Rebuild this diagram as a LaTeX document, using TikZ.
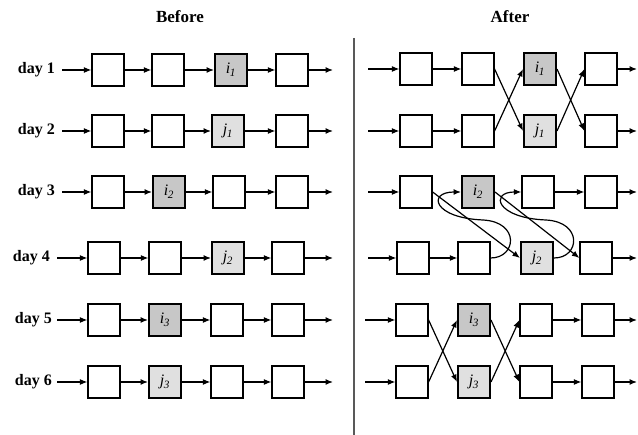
\documentclass[tikz,border=0pt]{standalone}
\usepackage{fontspec}
\setmainfont{Liberation Serif}
\usetikzlibrary{arrows.meta}
\tikzset{
  box/.style={draw, line width=1.2pt, minimum size=32pt, inner sep=0pt, fill=white, font=\fontsize{16}{16}\selectfont\itshape},
  ibox/.style={box, fill=black!22, line width=2pt},
  jbox/.style={box, fill=black!12, line width=2pt},
  arr/.style={-{Latex[length=7.5pt,width=6pt]}, line width=1.2pt},
  daylbl/.style={anchor=east, inner sep=0pt, font=\fontsize{16}{16}\selectfont\bfseries},
  ttl/.style={inner sep=0pt, font=\fontsize{17}{17}\selectfont\bfseries},
}
\newcommand{\lab}[2]{#1\textsubscript{\kern-0.5pt #2}}
\begin{document}
\begin{tikzpicture}[x=1pt,y=-1pt]
\useasboundingbox (0,0) rectangle (638,435);
\fill[white] (0,0) rectangle (638,435);
% titles
\node[ttl] (tb) at (180,17) {Before};
\node[ttl] (ta) at (510,17) {After};
% divider
\draw[line width=1.4pt, black!65] (354,38) -- (354,435);

% ---------------- LEFT ----------------
\node[daylbl] (d1) at (55,70) {day 1};
\node[daylbl] (d2) at (55,131) {day 2};
\node[daylbl] (d3) at (55,192) {day 3};
\node[daylbl] (d4) at (50,258) {day 4};
\node[daylbl] (d5) at (52,320) {day 5};
\node[daylbl] (d6) at (52,382) {day 6};

\node[box]  (L11) at (108,70) {};
\node[box]  (L12) at (168,70) {};
\node[ibox] (L13) at (231,70) {\lab{i}{1}};
\node[box]  (L14) at (292,70) {};

\node[box]  (L21) at (108,131) {};
\node[box]  (L22) at (168,131) {};
\node[jbox] (L23) at (228,131) {\lab{j}{1}};
\node[box]  (L24) at (292,131) {};

\node[box]  (L31) at (108,192) {};
\node[ibox] (L32) at (169,192) {\lab{i}{2}};
\node[box]  (L33) at (229,192) {};
\node[box]  (L34) at (292,192) {};

\node[box]  (L41) at (104,258) {};
\node[box]  (L42) at (165,258) {};
\node[jbox] (L43) at (228,258) {\lab{j}{2}};
\node[box]  (L44) at (288,258) {};

\node[box]  (L51) at (104,320) {};
\node[ibox] (L52) at (165,320) {\lab{i}{3}};
\node[box]  (L53) at (227,320) {};
\node[box]  (L54) at (288,320) {};

\node[box]  (L61) at (104,382) {};
\node[jbox] (L62) at (165,382) {\lab{j}{3}};
\node[box]  (L63) at (227,382) {};
\node[box]  (L64) at (288,382) {};

\coordinate (li1) at (62,70);   \coordinate (lo1) at (333,70);
\coordinate (li2) at (62,131);  \coordinate (lo2) at (333,131);
\coordinate (li3) at (62,192);  \coordinate (lo3) at (333,192);
\coordinate (li4) at (57,258);  \coordinate (lo4) at (333,258);
\coordinate (li5) at (57,320);  \coordinate (lo5) at (333,320);
\coordinate (li6) at (57,382);  \coordinate (lo6) at (333,382);

\foreach \r in {1,...,6}{
  \draw[arr] (li\r) -- (L\r1);
  \draw[arr] (L\r1) -- (L\r2);
  \draw[arr] (L\r2) -- (L\r3);
  \draw[arr] (L\r3) -- (L\r4);
  \draw[arr] (L\r4) -- (lo\r);
}

% ---------------- RIGHT ----------------
\node[box]  (R11) at (416,69) {};
\node[box]  (R12) at (478,69) {};
\node[ibox] (R13) at (540,69) {\lab{i}{1}};
\node[box]  (R14) at (601,69) {};

\node[box]  (R21) at (416,131) {};
\node[box]  (R22) at (478,131) {};
\node[jbox] (R23) at (540,131) {\lab{j}{1}};
\node[box]  (R24) at (601,131) {};

\node[box]  (R31) at (416,192) {};
\node[ibox] (R32) at (478,192) {\lab{i}{2}};
\node[box]  (R33) at (538,192) {};
\node[box]  (R34) at (601,192) {};

\node[box]  (R41) at (413,258) {};
\node[box]  (R42) at (474,258) {};
\node[jbox] (R43) at (537,258) {\lab{j}{2}};
\node[box]  (R44) at (596,258) {};

\node[box]  (R51) at (412,320) {};
\node[ibox] (R52) at (474,320) {\lab{i}{3}};
\node[box]  (R53) at (536,320) {};
\node[box]  (R54) at (598,320) {};

\node[box]  (R61) at (412,382) {};
\node[jbox] (R62) at (474,382) {\lab{j}{3}};
\node[box]  (R63) at (536,382) {};
\node[box]  (R64) at (598,382) {};

\coordinate (ri1) at (368,69);   \coordinate (ro1) at (637,69);
\coordinate (ri2) at (368,131);  \coordinate (ro2) at (637,131);
\coordinate (ri3) at (368,192);  \coordinate (ro3) at (637,192);
\coordinate (ri4) at (368,258);  \coordinate (ro4) at (637,258);
\coordinate (ri5) at (365,320);  \coordinate (ro5) at (637,320);
\coordinate (ri6) at (365,382);  \coordinate (ro6) at (637,382);

\foreach \r in {1,...,6}{
  \draw[arr] (ri\r) -- (R\r1);
  \draw[arr] (R\r4) -- (ro\r);
}
% days 1-2
\draw[arr] (R11) -- (R12);
\draw[arr] (R21) -- (R22);
\draw[arr] (R12.east) -- (R23.west);
\draw[arr] (R22.east) -- (R13.west);
\draw[arr] (R13.east) -- (R24.west);
\draw[arr] (R23.east) -- (R14.west);
% days 3-4
\draw[arr] (R41) -- (R42);
\draw[arr] (R33) -- (R34);
\draw[arr] (R31.east) -- (R43.west);
\draw[arr] (R32.east) -- (R44.west);
\draw[arr] (R42.east) .. controls +(26,0) and +(37,2) .. ([shift={(-7.5,-38)}]R42.east)
                       .. controls +(-50,-2) and +(-34,0) .. (R32.west);
\draw[arr] (R43.east) .. controls +(26,0) and +(37,2) .. ([shift={(-8,-38)}]R43.east)
                       .. controls +(-50,-2) and +(-32,0) .. (R33.west);
% days 5-6
\draw[arr] (R51.east) -- (R62.west);
\draw[arr] (R61.east) -- (R52.west);
\draw[arr] (R52.east) -- (R63.west);
\draw[arr] (R62.east) -- (R53.west);
\draw[arr] (R53) -- (R54);
\draw[arr] (R63) -- (R64);
\end{tikzpicture}
\end{document}
